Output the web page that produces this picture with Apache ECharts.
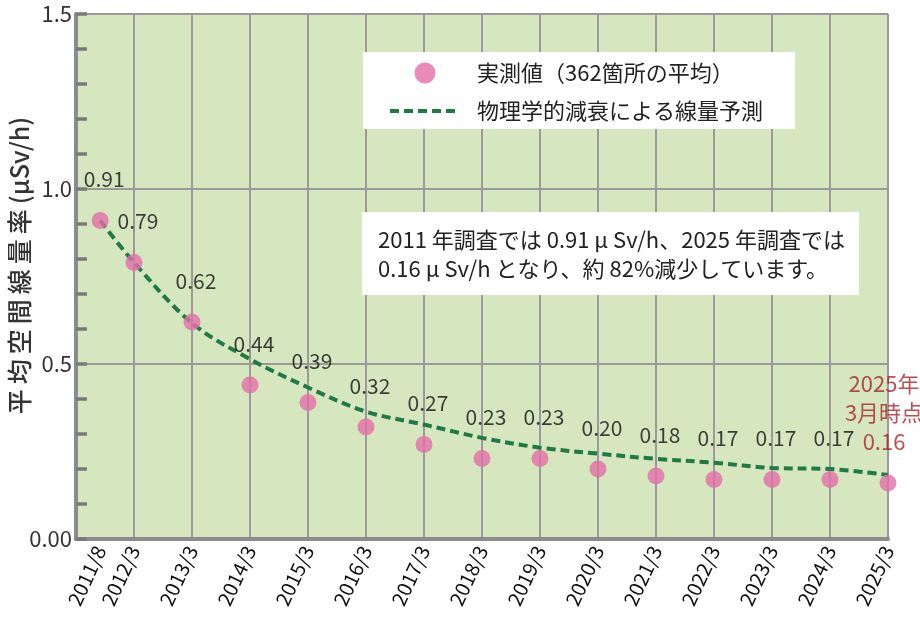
<!DOCTYPE html>
<html><head><meta charset="utf-8">
<script src="https://cdn.jsdelivr.net/npm/echarts@6/dist/echarts.min.js"></script>
<style>html,body{margin:0;padding:0;background:#fff}#c{width:920px;height:617px}</style>
</head><body><div id="c"></div>
<script>
// ---- data ----
const categories = ['2011/8','2012/3','2013/3','2014/3','2015/3','2016/3','2017/3','2018/3','2019/3','2020/3','2021/3','2022/3','2023/3','2024/3','2025/3'];
const measured = [0.91,0.79,0.62,0.44,0.39,0.32,0.27,0.23,0.23,0.20,0.18,0.17,0.17,0.17,0.16];
const predicted = [0.91,0.79,0.617,0.514,0.433,0.364,0.327,0.289,0.261,0.244,0.229,0.218,0.203,0.200,0.183];
const yTicks = [0, 0.5, 1.0, 1.5];
const seriesNames = ['実測値（362箇所の平均）', '物理学的減衰による線量予測'];
const yNameMain = '平均空間線量率';
const yNameUnit = '(μSv/h)';
const noteText = '2011 年調査では 0.91 μ Sv/h、2025 年調査では\n0.16 μ Sv/h となり、約 82%減少しています。';
const lastNote = '2025年\n3月時点';

// months since 2011/3
const startY = 2011, startM = 3;
const xs = categories.map(c => { const [y, m] = c.split('/').map(Number); return (y - startY) * 12 + (m - startM); });
const xMax = xs[xs.length - 1];

const NUM = "'Noto Sans CJK JP',sans-serif";
const CJK = "'Noto Sans CJK JP',sans-serif";
const spacedName = Array.from(yNameMain).join('\u2009') + '\u2009' + yNameUnit;

const measuredData = measured.map((v, i) => {
  const item = { value: [xs[i], v] };
  if (i === measured.length - 1) {
    item.label = {
      formatter: lastNote + '\n' + v.toFixed(2),
      color: '#a82428', fontSize: 22, lineHeight: 29, distance: 18, offset: [-4, 0]
    };
  }
  return item;
});
const predData = predicted.map((v, i) => [xs[i], v]);

const chart = echarts.init(document.getElementById('c'), null, { renderer: 'canvas' });
chart.setOption({
  animation: false,
  textStyle: { fontFamily: CJK },
  grid: { left: 76, right: 32, top: 14, bottom: 78, show: true, backgroundColor: '#d6e6bf', borderWidth: 0, outerBoundsMode: 'none', containLabel: false },
  title: {
    text: noteText, left: 362, top: 212, backgroundColor: '#ffffff',
    padding: [13, 14, 12, 16],
    textStyle: { fontFamily: CJK, fontSize: 22, lineHeight: 29, fontWeight: 'normal', color: '#222' }
  },
  legend: {
    orient: 'vertical', left: 363, top: 52, backgroundColor: '#ffffff',
    padding: [10, 32, 7, 25], itemGap: 16, itemWidth: 70, itemHeight: 21,
    textStyle: { fontFamily: CJK, fontSize: 22, color: '#222', lineHeight: 21, padding: [0, 0, 0, 12] },
    data: [
      { name: seriesNames[0], icon: 'circle' },
      { name: seriesNames[1], itemStyle: { opacity: 0 }, lineStyle: { width: 4, type: [9, 5], color: '#1f7a45' } }
    ]
  },
  xAxis: {
    type: 'value', min: 0, max: xMax, interval: 12,
    axisLine: { show: true, onZero: false, lineStyle: { color: '#8c8c8c', width: 4 } },
    axisTick: { show: false },
    splitLine: { show: true, lineStyle: { color: '#9a9a9a', width: 2 } },
    axisLabel: {
      customValues: xs, rotate: 65, margin: 8,
      fontFamily: NUM, fontSize: 20, color: '#111',
      formatter: v => categories[xs.indexOf(v)] || ''
    }
  },
  yAxis: {
    type: 'value', min: yTicks[0], max: yTicks[yTicks.length - 1], interval: 0.5,
    name: spacedName, nameLocation: 'middle', nameGap: 57, nameRotate: 90, nameMoveOverlap: false,
    nameTextStyle: { fontFamily: CJK, fontSize: 25, fontWeight: 500, color: '#333', verticalAlign: 'middle', align: 'center', padding: [0, 0, 0, 22] },
    axisLine: { show: true, lineStyle: { color: '#8c8c8c', width: 4 } },
    axisTick: { show: true, inside: true, length: 11, lineStyle: { color: '#7a7a7a', width: 3.5 } },
    minorTick: { show: true, splitNumber: 5, length: 11, lineStyle: { color: '#7a7a7a', width: 3.5 } },
    splitLine: { show: true, lineStyle: { color: '#9a9a9a', width: 2 } },
    axisLabel: {
      margin: 4, fontFamily: NUM, fontSize: 22, color: '#333',
      formatter: v => v === 0 ? '0.00' : v.toFixed(1)
    }
  },
  series: [
    {
      name: seriesNames[1], type: 'line', data: predData, smooth: 0.35,
      symbol: 'none', z: 2,
      lineStyle: { color: '#1f7a45', width: 4, type: [9, 5] },
      itemStyle: { color: '#1f7a45' }
    },
    {
      name: seriesNames[0], type: 'scatter', data: measuredData, z: 3,
      symbolSize: 17, itemStyle: { color: '#e46ea9' },
      label: {
        show: true, position: 'top', distance: 22, offset: [4, 0],
        fontFamily: NUM, fontSize: 21, color: '#111',
        formatter: p => p.value[1].toFixed(2)
      }
    }
  ]
});
</script>
</body></html>
